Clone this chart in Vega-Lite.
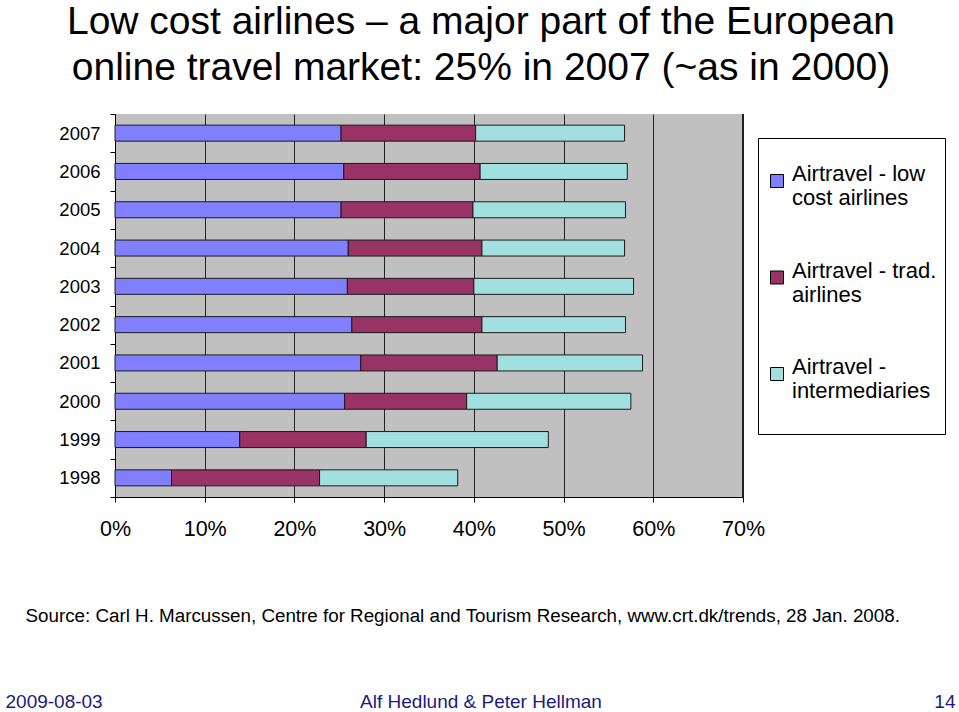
{
  "$schema": "https://vega.github.io/schema/vega-lite/v6.json",
  "width": 628,
  "height": 383,
  "autosize": "none",
  "padding": {"left": 115, "top": 114, "right": 216, "bottom": 215},
  "background": "white",
  "config": {
    "font": "Liberation Sans",
    "view": {"fill": "#C0C0C0", "stroke": null}
  },
  "title": {
    "text": ["Low cost airlines – a major part of the European", "online travel market: 25% in 2007 (~as in 2000)"],
    "subtitle": "Alf Hedlund & Peter Hellman",
    "anchor": "middle",
    "frame": "group",
    "font": "Liberation Sans",
    "fontSize": 39,
    "fontWeight": "normal",
    "color": "black",
    "lineHeight": 46,
    "subtitleFont": "Liberation Sans",
    "subtitleFontSize": 19,
    "subtitleColor": "#1a1a80",
    "subtitlePadding": 605,
    "dx": 52,
    "offset": -607
  },
  "data": {
    "values": [
      {"Year": "2007", "Segment": "Airtravel - low cost airlines", "Rank": 1, "Share": 0.252},
      {"Year": "2007", "Segment": "Airtravel - trad. airlines", "Rank": 2, "Share": 0.150},
      {"Year": "2007", "Segment": "Airtravel - intermediaries", "Rank": 3, "Share": 0.166},
      {"Year": "2006", "Segment": "Airtravel - low cost airlines", "Rank": 1, "Share": 0.255},
      {"Year": "2006", "Segment": "Airtravel - trad. airlines", "Rank": 2, "Share": 0.152},
      {"Year": "2006", "Segment": "Airtravel - intermediaries", "Rank": 3, "Share": 0.164},
      {"Year": "2005", "Segment": "Airtravel - low cost airlines", "Rank": 1, "Share": 0.252},
      {"Year": "2005", "Segment": "Airtravel - trad. airlines", "Rank": 2, "Share": 0.147},
      {"Year": "2005", "Segment": "Airtravel - intermediaries", "Rank": 3, "Share": 0.170},
      {"Year": "2004", "Segment": "Airtravel - low cost airlines", "Rank": 1, "Share": 0.260},
      {"Year": "2004", "Segment": "Airtravel - trad. airlines", "Rank": 2, "Share": 0.149},
      {"Year": "2004", "Segment": "Airtravel - intermediaries", "Rank": 3, "Share": 0.159},
      {"Year": "2003", "Segment": "Airtravel - low cost airlines", "Rank": 1, "Share": 0.259},
      {"Year": "2003", "Segment": "Airtravel - trad. airlines", "Rank": 2, "Share": 0.141},
      {"Year": "2003", "Segment": "Airtravel - intermediaries", "Rank": 3, "Share": 0.178},
      {"Year": "2002", "Segment": "Airtravel - low cost airlines", "Rank": 1, "Share": 0.264},
      {"Year": "2002", "Segment": "Airtravel - trad. airlines", "Rank": 2, "Share": 0.145},
      {"Year": "2002", "Segment": "Airtravel - intermediaries", "Rank": 3, "Share": 0.160},
      {"Year": "2001", "Segment": "Airtravel - low cost airlines", "Rank": 1, "Share": 0.274},
      {"Year": "2001", "Segment": "Airtravel - trad. airlines", "Rank": 2, "Share": 0.152},
      {"Year": "2001", "Segment": "Airtravel - intermediaries", "Rank": 3, "Share": 0.162},
      {"Year": "2000", "Segment": "Airtravel - low cost airlines", "Rank": 1, "Share": 0.256},
      {"Year": "2000", "Segment": "Airtravel - trad. airlines", "Rank": 2, "Share": 0.136},
      {"Year": "2000", "Segment": "Airtravel - intermediaries", "Rank": 3, "Share": 0.183},
      {"Year": "1999", "Segment": "Airtravel - low cost airlines", "Rank": 1, "Share": 0.139},
      {"Year": "1999", "Segment": "Airtravel - trad. airlines", "Rank": 2, "Share": 0.141},
      {"Year": "1999", "Segment": "Airtravel - intermediaries", "Rank": 3, "Share": 0.203},
      {"Year": "1998", "Segment": "Airtravel - low cost airlines", "Rank": 1, "Share": 0.063},
      {"Year": "1998", "Segment": "Airtravel - trad. airlines", "Rank": 2, "Share": 0.165},
      {"Year": "1998", "Segment": "Airtravel - intermediaries", "Rank": 3, "Share": 0.154}
    ]
  },
  "resolve": {"axis": {"x": "independent"}},
  "layer": [
    {
      "mark": {"type": "bar", "size": 16, "stroke": "#1a1a1a", "strokeWidth": 1},
      "encoding": {
        "y": {
          "field": "Year",
          "type": "nominal",
          "sort": "descending",
          "scale": {"paddingInner": 0, "paddingOuter": 0},
          "axis": {
            "tickBand": "extent",
            "ticks": true,
            "tickSize": 5,
            "tickColor": "black",
            "domainColor": "black",
            "labelFont": "Liberation Sans",
            "labelFontSize": 18.5,
            "labelColor": "black",
            "labelPadding": 10,
            "title": "2009-08-03",
            "titleAngle": 0,
            "titleX": -110,
            "titleY": 593,
            "titleAlign": "left",
            "titleBaseline": "alphabetic",
            "titleColor": "#1a1a80",
            "titleFont": "Liberation Sans",
            "titleFontSize": 19,
            "titleFontWeight": "normal"
          }
        },
        "x": {
          "field": "Share",
          "type": "quantitative",
          "stack": "zero",
          "scale": {"domain": [0, 0.7], "nice": false},
          "axis": {
            "format": ".0%",
            "values": [0, 0.1, 0.2, 0.3, 0.4, 0.5, 0.6, 0.7],
            "grid": true,
            "gridColor": "#222222",
            "gridWidth": 1,
            "domainColor": "black",
            "tickColor": "black",
            "tickSize": 5,
            "labelFlush": false,
            "labelFont": "Liberation Sans",
            "labelFontSize": 21.5,
            "labelColor": "black",
            "labelPadding": 16,
            "title": "Source: Carl H. Marcussen, Centre for Regional and Tourism Research, www.crt.dk/trends, 28 Jan. 2008.",
            "titleX": -90,
            "titleY": 124,
            "titleAlign": "left",
            "titleAnchor": "start",
            "titleBaseline": "alphabetic",
            "titleColor": "black",
            "titleFont": "Liberation Sans",
            "titleFontSize": 18.8,
            "titleFontWeight": "normal"
          }
        },
        "color": {
          "field": "Segment",
          "type": "nominal",
          "scale": {
            "domain": ["Airtravel - low cost airlines", "Airtravel - trad. airlines", "Airtravel - intermediaries"],
            "range": ["#8080FF", "#993366", "#A2E0E0"]
          },
          "legend": {
            "orient": "none",
            "legendX": 643,
            "legendY": 24,
            "title": "\u00a0",
            "titleFontSize": 12,
            "titlePadding": 12,
            "fillColor": "white",
            "strokeColor": "black",
            "padding": 8,
            "symbolType": "square",
            "symbolSize": 169,
            "symbolStrokeColor": "black",
            "symbolStrokeWidth": 1,
            "labelFont": "Liberation Sans",
            "labelFontSize": 22,
            "labelColor": "black",
            "labelLimit": 400,
            "labelOffset": 4,
            "labelBaseline": "alphabetic",
            "labelLineHeight": 25,
            "rowPadding": 50.5,
            "labelExpr": "datum.label == 'Airtravel - low cost airlines' ? ['Airtravel - low', 'cost airlines'] : datum.label == 'Airtravel - trad. airlines' ? ['Airtravel - trad.', 'airlines'] : ['Airtravel -', 'intermediaries', ' ']"
          }
        },
        "order": {"field": "Rank", "type": "quantitative"}
      }
    },
    {
      "mark": {"type": "rule", "color": "#222222", "strokeWidth": 1},
      "encoding": {
        "x": {
          "datum": 0.7,
          "type": "quantitative",
          "axis": {
            "orient": "top",
            "labels": false,
            "ticks": false,
            "domain": false,
            "grid": false,
            "title": "14",
            "titleX": 840,
            "titleY": 593,
            "titleAlign": "right",
            "titleAnchor": "end",
            "titleBaseline": "alphabetic",
            "titleColor": "#1a1a80",
            "titleFont": "Liberation Sans",
            "titleFontSize": 19,
            "titleFontWeight": "normal"
          }
        }
      }
    }
  ]
}
